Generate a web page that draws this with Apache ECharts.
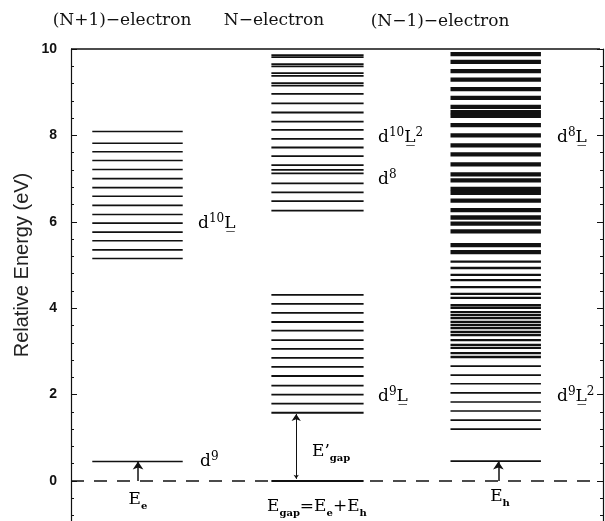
<!DOCTYPE html>
<html>
<head>
<meta charset="utf-8">
<script src="https://cdn.jsdelivr.net/npm/echarts@6/dist/echarts.min.js"></script>
<style>
  html, body { margin: 0; padding: 0; background: #fff; }
  #main { width: 605px; height: 521px; }
</style>
</head>
<body>
<div id="main"></div>
<script>
// energy levels (eV)
var levelsNplus1 = [0.45, 5.15, 5.35, 5.56, 5.76, 5.97, 6.17, 6.38, 6.59, 6.79, 7.00, 7.21, 7.42, 7.62, 7.82, 8.09];
var levelsN = [0, 1.58, 1.79, 2.00, 2.21, 2.43, 2.64, 2.85, 3.06, 3.26, 3.48, 3.68, 3.89, 4.10, 4.31,
  6.26, 6.48, 6.68, 6.89, 7.12, 7.20, 7.31, 7.52, 7.72, 7.92, 8.13, 8.32, 8.53, 8.74, 8.96,
  9.15, 9.21, 9.38, 9.44, 9.60, 9.65, 9.81, 9.86];
var levelsNminus1Bands = [9.88, 9.70, 9.49, 9.29, 9.07, 8.87, 8.66, 8.54, 8.45, 8.24, 8.00, 7.77, 7.56,
  7.33, 7.10, 6.96, 6.76, 6.67, 6.49, 6.27, 6.10, 5.96, 5.78, 5.46, 5.30];
var levelsNminus1Dense = [5.08, 4.93, 4.77, 4.65, 4.49, 4.33, 4.24, 4.07, 4.01, 3.91, 3.84, 3.77, 3.68,
  3.61, 3.54, 3.45, 3.38, 3.26, 3.15, 3.08, 2.96, 2.87];
var levelsNminus1 = [2.66, 2.45, 2.25, 2.04, 1.83, 1.62, 1.41, 1.20, 0.46];
var gapArrows = [[0, 0.45], [0, 0.45], [0.05, 1.55]];
var yTicks = [0, 2, 4, 6, 8, 10];
var yMax = 10;

// horizontal layout of the three columns (x axis runs 0..3)
var cols = [[0.12, 0.63], [1.13, 1.65], [2.14, 2.65]];
var arrowX = [0.378, 1.27, 2.41];

function levelSeries(data, col, width) {
  return {
    type: 'custom',
    silent: true,
    data: data.map(function (e) { return [cols[col][0], e]; }),
    renderItem: function (params, api) {
      var e = api.value(1);
      var a = api.coord([cols[col][0], e]);
      var b = api.coord([cols[col][1], e]);
      return {
        type: 'line',
        shape: { x1: a[0], y1: a[1], x2: b[0], y2: b[1] },
        style: { stroke: '#111', lineWidth: width }
      };
    }
  };
}

// full-width horizontal rule (frame top, dashed zero line)
function ruleSeries(value, width, dash) {
  return {
    type: 'custom', silent: true,
    data: [[0, value]],
    renderItem: function (params, api) {
      var a = api.coord([0, api.value(1)]);
      var b = api.coord([3, api.value(1)]);
      return {
        type: 'line',
        shape: { x1: a[0], y1: a[1], x2: b[0] - 3, y2: b[1] },
        style: { stroke: '#111', lineWidth: width, lineDash: dash || null, fill: null }
      };
    }
  };
}

var serif = 'DejaVu Serif';
var richStyles = {
  b: { fontFamily: serif, fontSize: 17, lineHeight: 22, color: '#111' },
  s: { fontFamily: serif, fontSize: 12, lineHeight: 12, verticalAlign: 'top', color: '#111' },
  u: { fontFamily: serif, fontSize: 10, lineHeight: 10, fontWeight: 'bold', verticalAlign: 'bottom', color: '#111' }
};
function note(x, y, text, align) {
  return {
    type: 'text', x: x, y: y,
    style: { text: text, rich: richStyles, align: align || 'left', verticalAlign: 'middle' },
    silent: true
  };
}

var chart = echarts.init(document.getElementById('main'));
var option = {
  animation: false,
  // 43.2 px per eV; the plot runs below the bottom edge of the picture
  grid: { left: 71, right: 2, top: 49, bottom: -46.4, outerBoundsMode: 'none', containLabel: false },
  xAxis: {
    type: 'value', min: 0, max: 3,
    axisLine: { show: false }, axisTick: { show: false }, axisLabel: { show: false }, splitLine: { show: false }
  },
  yAxis: [
    {
      type: 'value', min: -2, max: yMax, interval: 2, position: 'left',
      axisLine: { show: true, onZero: false, lineStyle: { color: '#111', width: 1.2 } },
      axisTick: { inside: true, length: 6, lineStyle: { color: '#111' } },
      minorTick: { show: true, splitNumber: 5, length: 3, lineStyle: { color: '#111' } },
      axisLabel: {
        margin: 14, color: '#111', fontSize: 14, fontWeight: 'bold', fontFamily: 'Liberation Sans',
        formatter: function (v) { return yTicks.indexOf(v) >= 0 ? String(v) : ''; }
      },
      splitLine: { show: false }
    },
    {
      type: 'value', min: -2, max: yMax, interval: 2, position: 'right',
      axisLine: { show: true, onZero: false, lineStyle: { color: '#111', width: 1.2 } },
      axisTick: { inside: true, length: 6, lineStyle: { color: '#111' } },
      minorTick: { show: true, splitNumber: 5, length: 3, lineStyle: { color: '#111' } },
      axisLabel: { show: false },
      splitLine: { show: false }
    }
  ],
  series: [
    ruleSeries(yMax, 1.5),
    ruleSeries(0, 1.4, [13, 10]),
    levelSeries(levelsNplus1, 0, 1.6),
    levelSeries(levelsN, 1, 1.8),
    levelSeries(levelsNminus1Bands, 2, 4.3),
    levelSeries(levelsNminus1Dense, 2, 2.3),
    levelSeries(levelsNminus1, 2, 1.6),
    {
      type: 'lines', coordinateSystem: 'cartesian2d', silent: true,
      symbol: ['none', 'arrow'], symbolSize: [4, 8],
      lineStyle: { color: '#111', width: 1.5, opacity: 1 },
      data: [
        { coords: [[arrowX[0], gapArrows[0][0]], [arrowX[0], gapArrows[0][1]]] },
        { coords: [[arrowX[2], gapArrows[1][0]], [arrowX[2], gapArrows[1][1]]] }
      ]
    },
    {
      type: 'lines', coordinateSystem: 'cartesian2d', silent: true,
      symbol: ['arrow', 'arrow'], symbolSize: [4, 7],
      lineStyle: { color: '#111', width: 1, opacity: 1 },
      data: [{ coords: [[arrowX[1], gapArrows[2][0]], [arrowX[1], gapArrows[2][1]]] }]
    }
  ],
  graphic: [
    { type: 'text', x: 122, y: 21, style: { text: '(N+1)\u2212electron', font: '17px "DejaVu Serif"', fill: '#111', align: 'center', verticalAlign: 'middle' } },
    { type: 'text', x: 274, y: 21, style: { text: 'N\u2212electron', font: '17px "DejaVu Serif"', fill: '#111', align: 'center', verticalAlign: 'middle' } },
    { type: 'text', x: 440, y: 22, style: { text: '(N\u22121)\u2212electron', font: '17px "DejaVu Serif"', fill: '#111', align: 'center', verticalAlign: 'middle' } },
    {
      type: 'text', x: 22, y: 265, rotation: Math.PI / 2,
      style: { text: 'Relative Energy (eV)', font: '20px "Liberation Sans"', fill: '#222', align: 'center', verticalAlign: 'middle' }
    },
    note(198, 224, '{b|d}{s|10}{b|L\u0332}'),
    note(200, 462, '{b|d}{s|9}'),
    note(138, 500, '{b|E}{u|e}', 'center'),
    note(378, 138, '{b|d}{s|10}{b|L\u0332}{s|2}'),
    note(378, 180, '{b|d}{s|8}'),
    note(378, 397, '{b|d}{s|9}{b|L\u0332}'),
    note(312, 452, '{b|E\u2019}{u|gap}'),
    note(267, 507, '{b|E}{u|gap}{b|=E}{u|e}{b|+E}{u|h}'),
    note(557, 138, '{b|d}{s|8}{b|L\u0332}'),
    note(557, 397, '{b|d}{s|9}{b|L\u0332}{s|2}'),
    note(500, 497, '{b|E}{u|h}', 'center')
  ]
};
option && chart.setOption(option);
</script>
</body>
</html>
